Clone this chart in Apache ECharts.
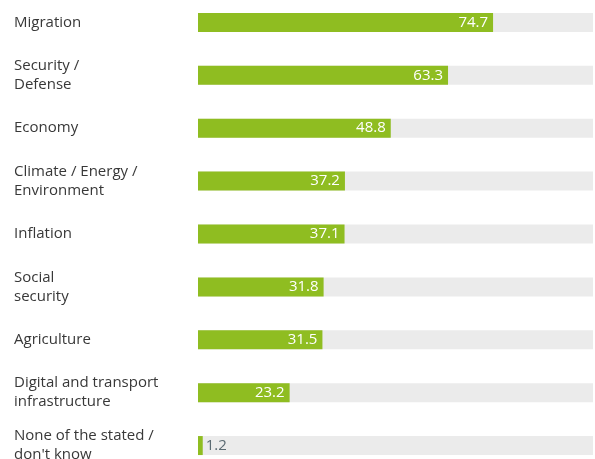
<!DOCTYPE html>
<html>
<head>
<meta charset="utf-8">
<script src="https://cdn.jsdelivr.net/npm/echarts@6/dist/echarts.min.js"></script>
<style>
  html, body { margin: 0; padding: 0; background: #fff; }
  #chart { width: 595px; height: 459px; }
</style>
</head>
<body>
<div id="chart"></div>
<script>
var categories = [
    'Migration',
    'Security /\nDefense',
    'Economy',
    'Climate / Energy /\nEnvironment',
    'Inflation',
    'Social\nsecurity',
    'Agriculture',
    'Digital and transport\ninfrastructure',
    "None of the stated /\ndon't know"
];
var values = [74.7, 63.3, 48.8, 37.2, 37.1, 31.8, 31.5, 23.2, 1.2];

var font = '"Open Sans", "Noto Sans", sans-serif';

var chart = echarts.init(document.getElementById('chart'));

// small values don't fit inside the bar, put the label outside in grey
var barData = values.map(function (v) {
    if (v < 5) {
        return {
            value: v,
            label: { position: 'right', color: '#5a6a72', fontWeight: 'normal', distance: 3 }
        };
    }
    return v;
});

chart.setOption({
    animation: false,
    grid: { left: 198, right: 2, top: -4, height: 476, outerBoundsMode: 'none' },
    xAxis: {
        type: 'value',
        min: 0,
        max: 100,
        show: false
    },
    yAxis: {
        type: 'category',
        data: categories,
        inverse: true,
        axisLine: { show: false },
        axisTick: { show: false },
        axisLabel: {
            align: 'left',
            margin: 184,
            color: '#383838',
            fontSize: 15,
            lineHeight: 19,
            fontFamily: font
        }
    },
    series: [{
        type: 'bar',
        data: barData,
        barWidth: 19,
        itemStyle: { color: '#8fbd21' },
        showBackground: true,
        backgroundStyle: { color: '#ebebeb' },
        label: {
            show: true,
            position: 'insideRight',
            distance: 5,
            color: '#fff',
            fontSize: 15,
            fontWeight: 500,
            fontFamily: font,
            formatter: function (p) { return p.value.toFixed(1); }
        }
    }]
});
</script>
</body>
</html>
